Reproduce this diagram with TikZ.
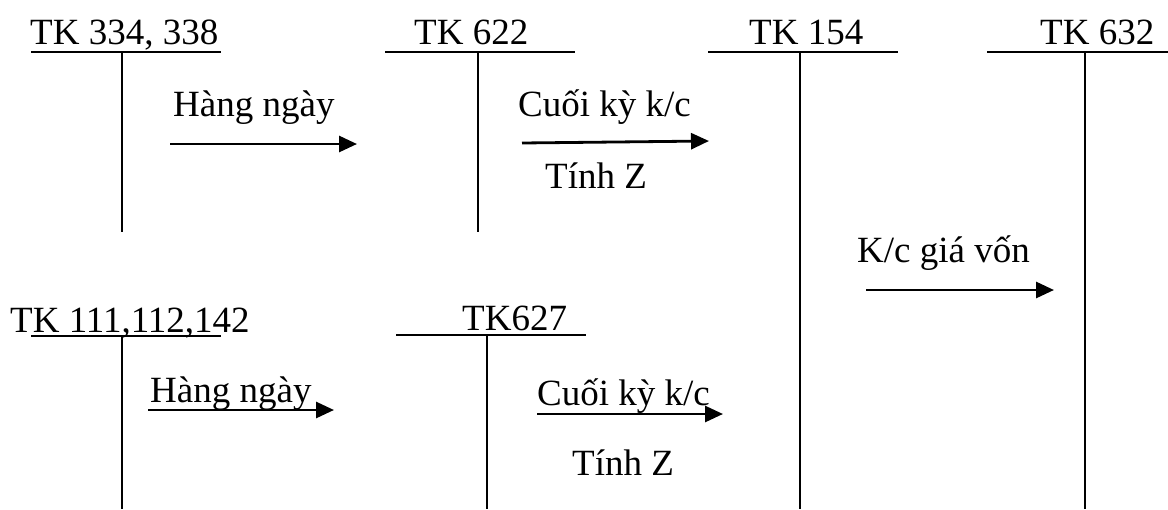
\documentclass[tikz,border=0pt]{standalone}
\usepackage{fontspec}
\setmainfont{Liberation Serif}
\usetikzlibrary{arrows.meta}
\begin{document}
\begin{tikzpicture}[x=1pt,y=-1pt,
  lbl/.style={anchor=base west,inner sep=0pt,font=\fontsize{37}{41}\selectfont},
  tline/.style={line width=1.8pt},
  flow/.style={line width=2.8pt,-{Triangle[length=18pt,width=16pt]}}]
\useasboundingbox (0,0) rectangle (1168,509);

% ---- T-accounts: title, horizontal bar, vertical stem ----
% TK 334, 338
\node[lbl] (a1) at (30,44) {TK 334, 338};
\coordinate (a1l) at (31,52);  \coordinate (a1r) at (221,52);
\coordinate (a1t) at (122,52); \coordinate (a1b) at (122,232);
\draw[tline] (a1l) -- (a1r);
\draw[tline] (a1t) -- (a1b);

% TK 622
\node[lbl] (a2) at (414,44) {TK 622};
\coordinate (a2l) at (385,52);  \coordinate (a2r) at (575,52);
\coordinate (a2t) at (478,52);  \coordinate (a2b) at (478,232);
\draw[tline] (a2l) -- (a2r);
\draw[tline] (a2t) -- (a2b);

% TK 154
\node[lbl] (a3) at (749,44) {TK 154};
\coordinate (a3l) at (708,52);  \coordinate (a3r) at (898,52);
\coordinate (a3t) at (800,52);  \coordinate (a3b) at (800,509);
\draw[tline] (a3l) -- (a3r);
\draw[tline] (a3t) -- (a3b);

% TK 632
\node[lbl] (a4) at (1040,44) {TK 632};
\coordinate (a4l) at (987,52);  \coordinate (a4r) at (1168,52);
\coordinate (a4t) at (1085,52); \coordinate (a4b) at (1085,509);
\draw[tline] (a4l) -- (a4r);
\draw[tline] (a4t) -- (a4b);

% TK 111,112,142
\node[lbl] (a5) at (10,332) {TK 111,112,142};
\coordinate (a5l) at (31,336);  \coordinate (a5r) at (221,336);
\coordinate (a5t) at (122,336); \coordinate (a5b) at (122,509);
\draw[tline] (a5l) -- (a5r);
\draw[tline] (a5t) -- (a5b);

% TK627
\node[lbl] (a6) at (462,330) {TK627};
\coordinate (a6l) at (396,335); \coordinate (a6r) at (586,335);
\coordinate (a6t) at (487,335); \coordinate (a6b) at (487,509);
\draw[tline] (a6l) -- (a6r);
\draw[tline] (a6t) -- (a6b);

% ---- transfers between accounts ----
\node[lbl] (t1) at (173,116) {Hàng ngày};
\coordinate (f1s) at (170,144); \coordinate (f1e) at (357,144);
\draw[flow] (f1s) -- (f1e);

\node[lbl] (t2) at (518,116) {Cuối kỳ k/c};
\coordinate (f2s) at (522,143); \coordinate (f2e) at (709,141);
\draw[flow] (f2s) -- (f2e);
\node[lbl] (t2b) at (545,188) {Tính Z};

\node[lbl] (t3) at (857,262) {K/c giá vốn};
\coordinate (f3s) at (866,290); \coordinate (f3e) at (1054,290);
\draw[flow] (f3s) -- (f3e);

\node[lbl] (t4) at (150,402) {Hàng ngày};
\coordinate (f4s) at (148,410); \coordinate (f4e) at (334,410);
\draw[flow] (f4s) -- (f4e);

\node[lbl] (t5) at (537,405) {Cuối kỳ k/c};
\coordinate (f5s) at (537,414); \coordinate (f5e) at (723,414);
\draw[flow] (f5s) -- (f5e);
\node[lbl] (t5b) at (572,475) {Tính Z};
\end{tikzpicture}
\end{document}
